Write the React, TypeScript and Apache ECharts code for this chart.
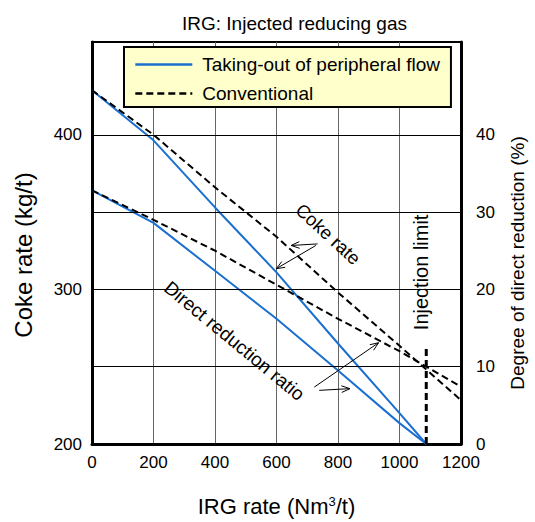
import React, { useEffect, useRef } from "react";
import * as echarts from "echarts";

// ---- data ----
const xTicks = [0, 200, 400, 600, 800, 1000, 1200];
const cokeRateTicks = [200, 300, 400];
const ddrTicks = [0, 10, 20, 30, 40];
const horizontalGrid = [250, 300, 350, 400];

const periphX = [0, 200, 400, 600, 800, 1000, 1087];
const periphCoke = [428.8, 396.4, 353, 311, 265, 220, 200];
const periphDDR = [32.8, 28.6, 22.4, 16.2, 9.5, 2.7, 0];

const convX = [0, 200, 400, 600, 800, 1000, 1200];
const convCoke = [428.8, 400, 366, 334, 298, 263.5, 228.3];
const convDDR = [32.8, 29.0, 25.0, 20.6, 16.2, 12.0, 7.4];

const limitX = [1087, 1087];
const limitDDR = [0, 12.5];

const NAME_P = "Taking-out of peripheral flow";
const NAME_C = "Conventional";
const FONT = "'Liberation Sans', Arial, sans-serif";
const BLUE = "#1a6fcf";

const zip = (xs: number[], ys: number[]) => xs.map((x, i) => [x, ys[i]]);

export default function App() {
  const ref = useRef<HTMLDivElement>(null);

  useEffect(() => {
    const chart = echarts.init(ref.current!, null, { renderer: "svg" });
    const option: any = {
      animation: false,
      textStyle: { fontFamily: FONT, color: "#000" },
      title: {
        text: "IRG: Injected reducing gas",
        left: 177,
        top: 9,
        textStyle: { fontFamily: FONT, fontSize: 19, fontWeight: "normal", color: "#000" },
      },
      legend: {
        data: [NAME_P, NAME_C],
        orient: "vertical",
        left: 124,
        top: 47,
        padding: [8, 11, 4, 10],
        itemGap: 10,
        itemWidth: 57,
        itemHeight: 14,
        backgroundColor: "#FFFFCC",
        borderColor: "#000",
        borderWidth: 2,
        borderRadius: 0,
        selectedMode: false,
        itemStyle: { opacity: 0 },
        lineStyle: { width: 2.6 },
        textStyle: { fontFamily: FONT, fontSize: 19, color: "#000", padding: [0, 0, 0, 5] },
      },
      grid: {
        left: 92,
        right: 70,
        top: 42,
        bottom: 73,
        show: true,
        borderColor: "#000",
        borderWidth: 2,
        backgroundColor: "transparent",
      },
      xAxis: {
        type: "value",
        min: xTicks[0],
        max: xTicks[xTicks.length - 1],
        interval: 200,
        name: "IRG rate (Nm{sup|3}/t)",
        nameLocation: "middle",
        nameGap: 51,
        nameTextStyle: {
          fontFamily: FONT,
          fontSize: 22,
          color: "#000",
          rich: { sup: { fontFamily: FONT, fontSize: 13, verticalAlign: "top", color: "#000" } },
        },
        axisLine: { show: true, onZero: false, lineStyle: { color: "#000", width: 3 } },
        axisTick: { show: false },
        axisLabel: {
          fontFamily: FONT,
          fontSize: 17,
          color: "#000",
          margin: 10,
          formatter: (v: number) => (xTicks.includes(v) ? String(v) : ""),
        },
        splitLine: { show: true, lineStyle: { color: "#666", width: 1 } },
      },
      yAxis: [
        {
          type: "value",
          min: 200,
          max: 460,
          interval: 50,
          name: "Coke rate (kg/t)",
          nameLocation: "middle",
          nameGap: 57,
          nameTextStyle: { fontFamily: FONT, fontSize: 24, color: "#000", padding: [0, 24, 0, 0] },
          axisLine: { show: true, lineStyle: { color: "#000", width: 3 } },
          axisTick: { show: false },
          axisLabel: {
            fontFamily: FONT,
            fontSize: 17,
            color: "#000",
            margin: 10,
            formatter: (v: number) => (cokeRateTicks.includes(v) ? String(v) : ""),
          },
          splitLine: { show: false },
        },
        {
          type: "value",
          position: "right",
          min: 0,
          max: 52,
          interval: 10,
          name: "Degree of direct reduction (%)",
          nameLocation: "middle",
          nameGap: 47,
          nameTextStyle: { fontFamily: FONT, fontSize: 19, color: "#000", padding: [0, 40, 0, 0] },
          axisLine: { show: true, lineStyle: { color: "#000", width: 3 } },
          axisTick: { show: false },
          axisLabel: {
            fontFamily: FONT,
            fontSize: 17,
            color: "#000",
            margin: 15,
            formatter: (v: number) => (ddrTicks.includes(v) ? String(v) : ""),
          },
          splitLine: { show: false },
        },
      ],
      series: [
        {
          type: "line",
          name: "gridlines",
          yAxisIndex: 0,
          data: [],
          z: 1,
          silent: true,
          markLine: {
            silent: true,
            symbol: "none",
            label: { show: false },
            lineStyle: { color: "#000", width: 1, type: "solid" },
            emphasis: { disabled: true },
            data: horizontalGrid.map((v) => ({ yAxis: v })),
          },
        },
        {
          type: "line",
          name: NAME_P,
          yAxisIndex: 0,
          data: zip(periphX, periphCoke),
          symbol: "none",
          color: BLUE,
          lineStyle: { color: BLUE, width: 2 },
          z: 2,
        },
        {
          type: "line",
          name: NAME_P,
          yAxisIndex: 1,
          data: zip(periphX, periphDDR),
          symbol: "none",
          color: BLUE,
          lineStyle: { color: BLUE, width: 2 },
          z: 2,
        },
        {
          type: "line",
          name: NAME_C,
          yAxisIndex: 0,
          data: zip(convX, convCoke),
          symbol: "none",
          color: "#000",
          lineStyle: { color: "#000", width: 2, type: [7, 4] },
          z: 3,
        },
        {
          type: "line",
          name: NAME_C,
          yAxisIndex: 1,
          data: zip(convX, convDDR),
          symbol: "none",
          color: "#000",
          lineStyle: { color: "#000", width: 2, type: [7, 4] },
          z: 3,
        },
        {
          type: "line",
          name: "Injection limit line",
          yAxisIndex: 1,
          data: zip(limitX, limitDDR),
          symbol: "none",
          color: "#000",
          lineStyle: { color: "#000", width: 3, type: [7, 4] },
          z: 4,
        },
      ],
    };
    chart.setOption(option);

    const px = (x: number, y: number) =>
      chart.convertToPixel({ seriesIndex: 1 }, [x, y]) as number[];

    const arrow = (a: number[], b: number[]) => {
      const [x1, y1] = px(a[0], a[1]);
      const [x2, y2] = px(b[0], b[1]);
      const ang = Math.atan2(y2 - y1, x2 - x1);
      const L = 9;
      const s = 0.38;
      const h1 = [x2 - L * Math.cos(ang - s), y2 - L * Math.sin(ang - s)];
      const h2 = [x2 - L * Math.cos(ang + s), y2 - L * Math.sin(ang + s)];
      return [
        { type: "line", silent: true, z: 10, shape: { x1, y1, x2, y2 }, style: { stroke: "#000", lineWidth: 1 } },
        {
          type: "polyline",
          silent: true,
          z: 10,
          shape: { points: [h1, [x2, y2], h2] },
          style: { stroke: "#000", lineWidth: 1, fill: null },
        },
      ];
    };

    const label = (text: string, at: number[], rotation: number, fontSize: number) => {
      const [x, y] = px(at[0], at[1]);
      return {
        type: "text",
        silent: true,
        z: 10,
        x,
        y,
        rotation,
        style: {
          text,
          fontFamily: FONT,
          fontSize,
          fill: "#000",
          align: "center",
          verticalAlign: "middle",
        },
      };
    };

    chart.setOption({
      graphic: [
        label("Coke rate", [768, 335.8], -0.74, 18.5),
        label("Direct reduction ratio", [463, 266.7], -0.69, 19),
        label("Injection limit", [1071, 311], Math.PI / 2, 20),
        ...arrow([733.5, 329.4], [647.6, 328.4]),
        ...arrow([728, 328.4], [599.3, 313.4]),
        ...arrow([722.9, 236.8], [932, 265.5]),
        ...arrow([739, 234.7], [838.7, 235.8]),
      ],
    });

    return () => chart.dispose();
  }, []);

  return (
    <div
      ref={ref}
      style={{ position: "fixed", left: 0, top: 0, width: 535, height: 522, background: "#fff" }}
    />
  );
}
